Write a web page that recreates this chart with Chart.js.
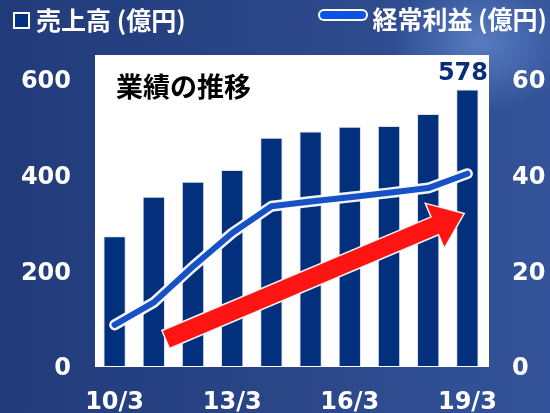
<!DOCTYPE html>
<html lang="ja">
<head>
<meta charset="UTF-8">
<title>業績の推移</title>
<script src="https://cdn.jsdelivr.net/npm/chart.js"></script>
<style>
  html, body { margin: 0; padding: 0; }
  body {
    width: 550px; height: 413px; overflow: hidden;
    background:
      radial-gradient(ellipse 90px 70px at 480px 42px, rgba(120,160,230,0.55), rgba(120,160,230,0) 100%),
      linear-gradient(to right, #213b7a 0%, #2a4687 50%, #34539a 100%);
  }
  #wrap { position: relative; width: 550px; height: 413px; }
</style>
</head>
<body>
<div id="wrap"><canvas id="grafico" width="550" height="413"></canvas></div>
<script>
// datos
const periodos = ['10/3', '11/3', '12/3', '13/3', '14/3', '15/3', '16/3', '17/3', '18/3', '19/3'];
const ventas = [271, 354, 385, 410, 477, 490, 500, 502, 527, 578];        // 売上高 (億円)
const beneficio = [8.6, 13.3, 20.8, 27.8, 33.4, 34.4, 35.3, 36.2, 37.2, 40.2]; // 経常利益 (億円)
const ticksIzq = [0, 200, 400, 600];
const ticksDer = [0, 20, 40, 60];

// flecha roja (en unidades de escala: índice de categoría / eje derecho)
const flechaDesde = { x: 1.32, y: 5.6 };
const flechaHasta = { x: 8.89, y: 31.8 };

const azulBarra = '#03307c';
const fuenteNum = '"DejaVu Sans", Verdana, sans-serif';
const fuenteJp = '"Noto Sans CJK JP", "Noto Sans", sans-serif';

const decoracion = {
  id: 'decoracion',
  beforeDraw(chart) {
    const { ctx, chartArea: a } = chart;
    ctx.save();
    ctx.fillStyle = '#ffffff';
    ctx.fillRect(a.left, 55, a.right - a.left + 2, a.bottom - 55 + 1);
    ctx.restore();
  },
  afterDatasetsDraw(chart) {
    const { ctx } = chart;
    const x = chart.scales.x, y1 = chart.scales.y1;
    const x0 = x.getPixelForValue(flechaDesde.x), yy0 = y1.getPixelForValue(flechaDesde.y);
    const x1 = x.getPixelForValue(flechaHasta.x), yy1 = y1.getPixelForValue(flechaHasta.y);
    const dx = x1 - x0, dy = yy1 - yy0, len = Math.hypot(dx, dy);
    const ux = dx / len, uy = dy / len, nx = -uy, ny = ux;
    const cuerpo = 9, cabeza = 23, largoCab = 30;
    const bx = x1 - ux * largoCab, by = yy1 - uy * largoCab;
    const pts = [
      [x0 + nx * cuerpo, yy0 + ny * cuerpo],
      [bx + nx * cuerpo, by + ny * cuerpo],
      [bx + nx * cabeza, by + ny * cabeza],
      [x1, yy1],
      [bx - nx * cabeza, by - ny * cabeza],
      [bx - nx * cuerpo, by - ny * cuerpo],
      [x0 - nx * cuerpo, yy0 - ny * cuerpo]
    ];
    ctx.save();
    ctx.beginPath();
    pts.forEach((p, i) => i ? ctx.lineTo(p[0], p[1]) : ctx.moveTo(p[0], p[1]));
    ctx.closePath();
    ctx.lineJoin = 'miter';
    ctx.lineWidth = 3;
    ctx.strokeStyle = '#f4f4f4';
    ctx.stroke();
    ctx.fillStyle = '#ff1414';
    ctx.fill();
    ctx.restore();
  },
  afterDraw(chart) {
    const { ctx, chartArea: a } = chart;
    ctx.save();
    ctx.textBaseline = 'middle';

    // título dentro del gráfico
    ctx.fillStyle = '#000000';
    ctx.font = 'bold 27px ' + fuenteJp;
    ctx.textAlign = 'left';
    ctx.fillText('業績の推移', 116, 87);

    // valor de la última barra
    ctx.fillStyle = '#0a2e78';
    ctx.font = 'bold 24px ' + fuenteNum;
    ctx.textAlign = 'right';
    ctx.fillText(String(ventas[ventas.length - 1]), a.right + 1, 74);

    // leyenda izquierda
    ctx.fillStyle = azulBarra;
    ctx.fillRect(14, 13, 15, 15);
    ctx.strokeStyle = '#ffffff';
    ctx.lineWidth = 2;
    ctx.strokeRect(14, 13, 15, 15);
    ctx.fillStyle = '#ffffff';
    ctx.font = 'bold 25px ' + fuenteJp;
    ctx.textAlign = 'left';
    ctx.fillText('売上高 (億円)', 36, 20);

    // leyenda derecha
    ctx.beginPath();
    ctx.lineCap = 'round';
    ctx.lineWidth = 12;
    ctx.strokeStyle = '#ffffff';
    ctx.moveTo(324, 15); ctx.lineTo(362, 15);
    ctx.stroke();
    ctx.lineWidth = 8;
    ctx.strokeStyle = '#0a55e6';
    ctx.stroke();
    ctx.fillStyle = '#ffffff';
    ctx.textAlign = 'right';
    ctx.fillText('経常利益 (億円)', 547, 19);
    ctx.restore();
  }
};

const ctx = document.getElementById('grafico').getContext('2d');
new Chart(ctx, {
  type: 'bar',
  data: {
    labels: periodos,
    datasets: [
      {
        type: 'bar',
        label: '売上高 (億円)',
        data: ventas,
        yAxisID: 'y',
        backgroundColor: azulBarra,
        borderColor: 'rgba(215,222,235,0.9)',
        borderWidth: 1,
        barPercentage: 0.57,
        categoryPercentage: 1,
        order: 3
      },
      {
        type: 'line',
        label: 'halo',
        data: beneficio,
        yAxisID: 'y1',
        borderColor: 'rgba(255,255,255,0.95)',
        borderWidth: 11,
        pointRadius: 0,
        tension: 0,
        borderCapStyle: 'round',
        borderJoinStyle: 'round',
        order: 2
      },
      {
        type: 'line',
        label: '経常利益 (億円)',
        data: beneficio,
        yAxisID: 'y1',
        borderColor: '#1652c6',
        borderWidth: 6,
        pointRadius: 0,
        tension: 0,
        borderCapStyle: 'round',
        borderJoinStyle: 'round',
        order: 1
      }
    ]
  },
  options: {
    responsive: false,
    animation: false,
    layout: { padding: { top: 79, left: 0, right: 0, bottom: 0 } },
    plugins: { legend: { display: false }, tooltip: { enabled: false } },
    scales: {
      x: {
        offset: true,
        grid: { display: false, drawTicks: false },
        border: { display: false },
        afterFit(s) { s.height = 47; },
        ticks: {
          color: '#ffffff',
          font: { family: fuenteNum, size: 24, weight: 'bold' },
          padding: 22,
          autoSkip: false,
          maxRotation: 0,
          callback(v, i) { return i % 3 === 0 ? periodos[i] : ''; }
        }
      },
      y: {
        position: 'left',
        min: 0, max: 600,
        grid: { display: false, drawTicks: false },
        border: { display: false },
        afterFit(s) { s.width = 95; },
        afterBuildTicks(s) { s.ticks = ticksIzq.map(v => ({ value: v })); },
        ticks: {
          color: '#ffffff',
          font: { family: fuenteNum, size: 24, weight: 'bold' },
          padding: 24,
          labelOffset: 3
        }
      },
      y1: {
        position: 'right',
        min: 0, max: 60,
        grid: { display: false, drawTicks: false },
        border: { display: false },
        afterFit(s) { s.width = 63; },
        afterBuildTicks(s) { s.ticks = ticksDer.map(v => ({ value: v })); },
        ticks: {
          color: '#ffffff',
          font: { family: fuenteNum, size: 24, weight: 'bold' },
          padding: 25,
          labelOffset: 3
        }
      }
    }
  },
  plugins: [decoracion]
});
</script>
</body>
</html>
